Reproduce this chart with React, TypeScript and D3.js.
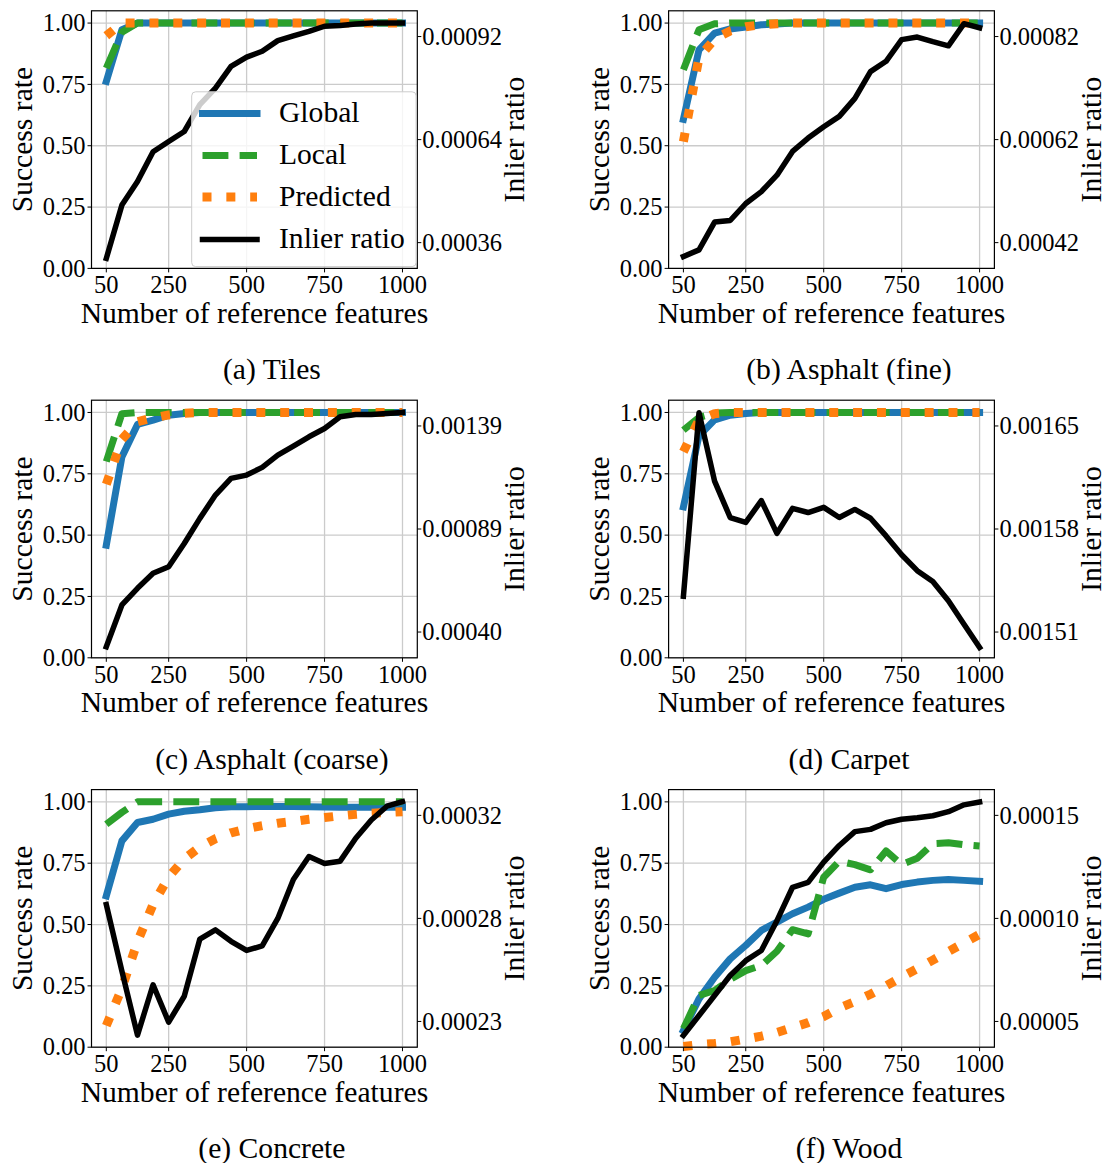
import * as d3 from "d3";

const features = [50, 100, 150, 200, 250, 300, 350, 400, 450, 500, 550, 600, 650, 700, 750, 800, 850, 900, 950, 1000];
const xTicks = [50, 250, 500, 750, 1000];
const yTicks = [0, 0.25, 0.5, 0.75, 1.0];

// (a) Tiles
const tilesGlobal = [0.762, 0.973, 1, 1, 1, 1, 1, 1, 1, 1, 1, 1, 1, 1, 1, 1, 1, 1, 1, 1];
const tilesLocal = [0.816, 0.963, 1, 1, 1, 1, 1, 1, 1, 1, 1, 1, 1, 1, 1, 1, 1, 1, 1, 1];
const tilesPredicted = [0.948, 1, 1, 1, 1, 1, 1, 1, 1, 1, 1, 1, 1, 1, 1, 1, 1, 1, 1, 1];
const tilesInlier = [0.000317, 0.000462, 0.000526, 0.000607, 0.000635, 0.000662, 0.000735, 0.00078, 0.000839, 0.000864, 0.00088, 0.000909, 0.000922, 0.000934, 0.000948, 0.00095, 0.000954, 0.000957, 0.000957, 0.000957];
const tilesRightTicks = [0.00036, 0.00064, 0.00092];

// (b) Asphalt (fine)
const fineGlobal = [0.608, 0.891, 0.959, 0.976, 0.984, 0.993, 0.996, 1, 1, 1, 1, 1, 1, 1, 1, 1, 1, 1, 1, 1];
const fineLocal = [0.81, 0.973, 0.997, 1, 1, 1, 1, 1, 1, 1, 1, 1, 1, 1, 1, 1, 1, 1, 1, 1];
const finePredicted = [0.517, 0.859, 0.935, 0.968, 0.985, 0.993, 0.997, 1, 1, 1, 1, 1, 1, 1, 1, 1, 1, 1, 1, 1];
const fineInlier = [0.000393, 0.000406, 0.00046, 0.000463, 0.000496, 0.000519, 0.000551, 0.000597, 0.000623, 0.000645, 0.000665, 0.0007, 0.000752, 0.000772, 0.000814, 0.000819, 0.00081, 0.000802, 0.000845, 0.000837];
const fineRightTicks = [0.00042, 0.00062, 0.00082];

// (c) Asphalt (coarse)
const coarseGlobal = [0.459, 0.819, 0.951, 0.969, 0.989, 0.996, 1, 1, 1, 1, 1, 1, 1, 1, 1, 1, 1, 1, 1, 1];
const coarseLocal = [0.8, 0.995, 1, 1, 1, 1, 1, 1, 1, 1, 1, 1, 1, 1, 1, 1, 1, 1, 1, 1];
const coarsePredicted = [0.707, 0.89, 0.962, 0.978, 0.99, 0.997, 1, 1, 1, 1, 1, 1, 1, 1, 1, 1, 1, 1, 1, 1];
const coarseInlier = [0.000329, 0.00053, 0.00061, 0.000682, 0.000714, 0.000825, 0.000946, 0.001058, 0.001138, 0.001154, 0.001191, 0.00125, 0.001293, 0.001338, 0.001378, 0.001434, 0.001445, 0.001445, 0.00145, 0.001455];
const coarseRightTicks = [0.0004, 0.00089, 0.00139];

// (d) Carpet
const carpetGlobal = [0.615, 0.905, 0.97, 0.989, 0.996, 1, 1, 1, 1, 1, 1, 1, 1, 1, 1, 1, 1, 1, 1, 1];
const carpetLocal = [0.928, 0.98, 0.998, 1, 1, 1, 1, 1, 1, 1, 1, 1, 1, 1, 1, 1, 1, 1, 1, 1];
const carpetPredicted = [0.84, 0.97, 0.995, 1, 1, 1, 1, 1, 1, 1, 1, 1, 1, 1, 1, 1, 1, 1, 1, 1];
const carpetInlier = [0.0015343, 0.001659, 0.0016125, 0.0015878, 0.0015845, 0.0015993, 0.001577, 0.001594, 0.0015912, 0.0015947, 0.0015878, 0.0015933, 0.0015873, 0.0015753, 0.0015625, 0.0015517, 0.0015443, 0.0015312, 0.0015153, 0.0014995];
const carpetRightTicks = [0.00151, 0.00158, 0.00165];

// (e) Concrete
const concreteGlobal = [0.617, 0.841, 0.916, 0.929, 0.95, 0.962, 0.968, 0.976, 0.98, 0.98, 0.982, 0.981, 0.981, 0.98, 0.979, 0.978, 0.978, 0.978, 0.978, 0.978];
const concreteLocal = [0.909, 0.957, 1, 1, 1, 1, 1, 1, 1, 1, 1, 1, 1, 1, 1, 1, 1, 1, 1, 1];
const concretePredicted = [0.088, 0.24, 0.43, 0.582, 0.694, 0.767, 0.816, 0.85, 0.874, 0.89, 0.903, 0.913, 0.92, 0.929, 0.936, 0.943, 0.949, 0.954, 0.957, 0.96];
const concreteInlier = [0.000281, 0.000252, 0.000224, 0.000246, 0.0002297, 0.000241, 0.000266, 0.00027, 0.000265, 0.000261, 0.000263, 0.000275, 0.000292, 0.000302, 0.000299, 0.0003, 0.00031, 0.000318, 0.000324, 0.000326];
const concreteRightTicks = [0.00023, 0.00028, 0.00032];

// (f) Wood
const woodGlobal = [0.068, 0.197, 0.285, 0.36, 0.415, 0.476, 0.51, 0.544, 0.571, 0.603, 0.628, 0.652, 0.662, 0.646, 0.663, 0.673, 0.68, 0.684, 0.68, 0.676];
const woodLocal = [0.075, 0.211, 0.231, 0.276, 0.312, 0.333, 0.391, 0.479, 0.462, 0.693, 0.758, 0.744, 0.723, 0.8, 0.745, 0.77, 0.83, 0.833, 0.825, 0.82];
const woodPredicted = [0.003, 0.01, 0.015, 0.022, 0.033, 0.045, 0.06, 0.08, 0.1, 0.125, 0.16, 0.186, 0.216, 0.25, 0.286, 0.32, 0.355, 0.39, 0.425, 0.46];
const woodInlier = [0.0000432, 0.0000529, 0.0000626, 0.0000723, 0.0000795, 0.0000844, 0.0000989, 0.0001151, 0.0001175, 0.0001273, 0.0001354, 0.0001421, 0.0001432, 0.0001464, 0.0001481, 0.0001488, 0.0001498, 0.0001518, 0.0001551, 0.0001565];
const woodRightTicks = [0.00005, 0.0001, 0.00015];

const captions = ["(a) Tiles", "(b) Asphalt (fine)", "(c) Asphalt (coarse)", "(d) Carpet", "(e) Concrete", "(f) Wood"];

const panels = [
  { global: tilesGlobal, local: tilesLocal, predicted: tilesPredicted, inlier: tilesInlier, rightTicks: tilesRightTicks },
  { global: fineGlobal, local: fineLocal, predicted: finePredicted, inlier: fineInlier, rightTicks: fineRightTicks },
  { global: coarseGlobal, local: coarseLocal, predicted: coarsePredicted, inlier: coarseInlier, rightTicks: coarseRightTicks },
  { global: carpetGlobal, local: carpetLocal, predicted: carpetPredicted, inlier: carpetInlier, rightTicks: carpetRightTicks },
  { global: concreteGlobal, local: concreteLocal, predicted: concretePredicted, inlier: concreteInlier, rightTicks: concreteRightTicks },
  { global: woodGlobal, local: woodLocal, predicted: woodPredicted, inlier: woodInlier, rightTicks: woodRightTicks },
];

const FONT = "'Liberation Serif', 'Times New Roman', serif";
const BLUE = "#1f77b4";
const GREEN = "#2ca02c";
const ORANGE = "#ff7f0e";
const GRID = "#cbcbcb";

const axW = 325.8;
const axH = 257.6;
const colX = [91.5, 668.6];
const rowY = [10.8, 400.2, 789.6];

const TICK_FS = 24.5;
const LABEL_FS = 29.6;

const series = [
  { key: "global", name: "Global", color: BLUE, width: 7, dash: null, cap: "square" },
  { key: "local", name: "Local", color: GREEN, width: 7, dash: "25.9,11.2", cap: "butt" },
  { key: "predicted", name: "Predicted", color: ORANGE, width: 9, dash: "9,14.85", cap: "butt" },
];

function Panel({ p, idx }) {
  const left = colX[idx % 2];
  const top = rowY[Math.floor(idx / 2)];
  const right = left + axW;
  const bottom = top + axH;

  const x = d3.scaleLinear().domain([2.5, 1047.5]).range([left, right]);
  const y = d3.scaleLinear().domain([0, 1.05]).range([bottom, top]);
  const lo = p.rightTicks[0];
  const hi = p.rightTicks[2];
  const d = hi - lo;
  // twin axis: outer ticks sit at 10% / 90% of the axis height
  const y2 = d3.scaleLinear().domain([lo - 0.125 * d, hi + 0.125 * d]).range([bottom, top]);
  const rightPos = [lo, (lo + hi) / 2, hi];

  const line = d3.line<number>().x((_, i) => x(features[i])).y((v) => y(v));
  const line2 = d3.line<number>().x((_, i) => x(features[i])).y((v) => y2(v));

  const cx = (left + right) / 2;
  const cy = (top + bottom) / 2;

  return (
    <g>
      {/* grid */}
      {xTicks.map((t) => (
        <line key={"gx" + t} x1={x(t)} x2={x(t)} y1={top} y2={bottom} stroke={GRID} strokeWidth={1.3} />
      ))}
      {yTicks.map((t) => (
        <line key={"gy" + t} x1={left} x2={right} y1={y(t)} y2={y(t)} stroke={GRID} strokeWidth={1.3} />
      ))}

      {/* success rate lines */}
      {series.map((s) => (
        <path
          key={s.key}
          d={line(p[s.key]) || ""}
          fill="none"
          stroke={s.color}
          strokeWidth={s.width}
          strokeDasharray={s.dash || undefined}
          strokeLinecap={s.cap as any}
          strokeLinejoin="round"
        />
      ))}

      {/* inlier ratio on twin axis */}
      <path d={line2(p.inlier) || ""} fill="none" stroke="#000" strokeWidth={5.5} strokeLinecap="square" strokeLinejoin="round" />

      {/* frame */}
      <rect x={left} y={top} width={axW} height={axH} fill="none" stroke="#000" strokeWidth={1.2} />

      {/* x ticks */}
      {xTicks.map((t) => (
        <g key={"xt" + t}>
          <line x1={x(t)} x2={x(t)} y1={bottom} y2={bottom + 4} stroke="#000" strokeWidth={1} />
          <text x={x(t)} y={bottom + 25} textAnchor="middle" fontSize={TICK_FS} fontFamily={FONT}>
            {t}
          </text>
        </g>
      ))}

      {/* left y ticks */}
      {yTicks.map((t) => (
        <g key={"yt" + t}>
          <line x1={left - 4} x2={left} y1={y(t)} y2={y(t)} stroke="#000" strokeWidth={1} />
          <text x={left - 6} y={y(t) + 8.2} textAnchor="end" fontSize={TICK_FS} fontFamily={FONT}>
            {t.toFixed(2)}
          </text>
        </g>
      ))}

      {/* right y ticks */}
      {rightPos.map((v, i) => (
        <g key={"rt" + i}>
          <line x1={right} x2={right + 4} y1={y2(v)} y2={y2(v)} stroke="#000" strokeWidth={1} />
          <text x={right + 5} y={y2(v) + 8.2} textAnchor="start" fontSize={TICK_FS} fontFamily={FONT}>
            {p.rightTicks[i].toFixed(5)}
          </text>
        </g>
      ))}

      {/* axis labels */}
      <text x={cx} y={bottom + 54.4} textAnchor="middle" fontSize={LABEL_FS} fontFamily={FONT}>
        Number of reference features
      </text>
      <text
        transform={`translate(${left - 59.8},${cy}) rotate(-90)`}
        textAnchor="middle"
        fontSize={LABEL_FS}
        fontFamily={FONT}
      >
        Success rate
      </text>
      <text
        transform={`translate(${right + 106.5},${cy}) rotate(-90)`}
        textAnchor="middle"
        fontSize={LABEL_FS}
        fontFamily={FONT}
      >
        Inlier ratio
      </text>

      {/* caption */}
      <text x={cx + 17.5} y={bottom + 111} textAnchor="middle" fontSize={LABEL_FS} fontFamily={FONT}>
        {captions[idx]}
      </text>

      {idx === 0 && <Legend left={left} top={top} right={right} bottom={bottom} />}
    </g>
  );
}

function Legend({ left, top, right, bottom }) {
  const entries = [
    ...series,
    { key: "inlier", name: "Inlier ratio", color: "#000", width: 5.5, dash: null, cap: "square" },
  ];
  const rows = [102.7, 144.7, 186.3, 228.7];
  const hx1 = left + 111;
  const hx2 = left + 165.5;
  return (
    <g>
      <rect
        x={left + 100.2}
        y={top + 81}
        width={right - 1.2 - (left + 100.2)}
        height={bottom - 1.8 - (top + 81)}
        rx={4}
        fill="#fff"
        fillOpacity={0.8}
        stroke="#cccccc"
        strokeWidth={1}
      />
      {entries.map((e, i) => (
        <g key={e.key}>
          <line
            x1={hx1}
            x2={hx2}
            y1={top + rows[i]}
            y2={top + rows[i]}
            stroke={e.color}
            strokeWidth={e.width}
            strokeDasharray={e.dash || undefined}
            strokeLinecap={e.cap as any}
          />
          <text x={left + 187.5} y={top + rows[i] + 8.8} fontSize={LABEL_FS} fontFamily={FONT}>
            {e.name}
          </text>
        </g>
      ))}
    </g>
  );
}

export default function App() {
  return (
    <svg
      width={1108}
      height={1163}
      style={{ position: "absolute", left: 0, top: 0, background: "#fff" }}
    >
      <rect width={1108} height={1163} fill="#fff" />
      {panels.map((p, i) => (
        <Panel key={i} p={p} idx={i} />
      ))}
    </svg>
  );
}
